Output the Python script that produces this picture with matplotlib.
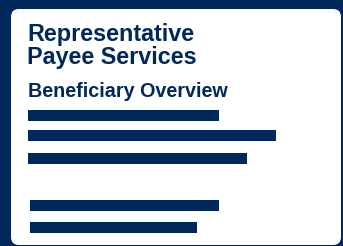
import matplotlib.pyplot as plt
from matplotlib.patches import FancyBboxPatch

NAVY = '#00285a'

title_lines = ['Representative', 'Payee Services']
subtitle = 'Beneficiary Overview'
bar_lengths = [191, 248, 219, 189, 167]

fig = plt.figure(figsize=(3.43, 2.46), dpi=100)
fig.patch.set_facecolor(NAVY)
ax = fig.add_axes([0, 0, 1, 1])
ax.set_xlim(0, 343)
ax.set_ylim(246, 0)
ax.axis('off')

# white card
card = FancyBboxPatch((11, 9), 330, 236, boxstyle='round,pad=0,rounding_size=8',
                      facecolor='white', edgecolor='none')
ax.add_patch(card)

font = dict(color=NAVY, fontweight='bold', family='Liberation Sans', va='baseline')
ax.text(27, 41, title_lines[0], fontsize=16.8, **font)
ax.text(27, 64, title_lines[1], fontsize=16.8, **font)
ax.text(28, 97, subtitle, fontsize=14.2, **font)

# bars: two groups with a gap between them
ys = [115.5, 135.5, 158, 205, 227.5]
lefts = [28, 28, 28, 30, 30]
ax.barh(ys, bar_lengths, left=lefts, height=11, color=NAVY)

fig.savefig('out.png', dpi=100, facecolor=NAVY)
